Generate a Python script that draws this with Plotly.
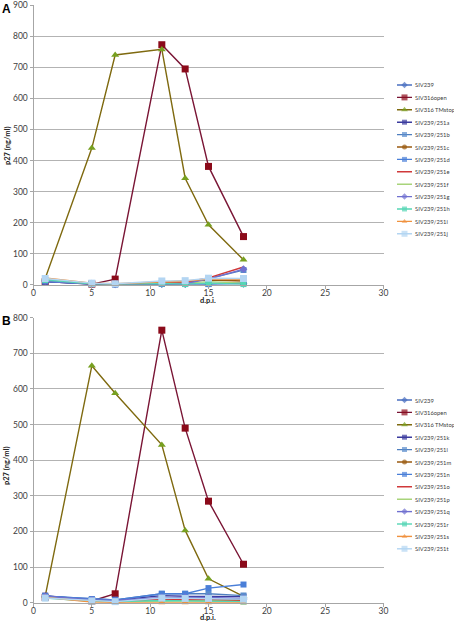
import plotly.graph_objects as go

days = [1, 5, 7, 11, 13, 15, 18]
x_ticks = [0, 5, 10, 15, 20, 25, 30]

names_a = ["SIV239", "SIV316open", "SIV316 TMstop", "SIV239/251a", "SIV239/251b", "SIV239/251c",
           "SIV239/251d", "SIV239/251e", "SIV239/251f", "SIV239/251g", "SIV239/251h", "SIV239/251i",
           "SIV239/251j"]
values_a = [
    [12, 2, 1, 2, 2, 2, 3],
    [10, 2, 18, 773, 695, 381, 155],
    [20, 440, 740, 758, 343, 193, 80],
    [10, 2, 1, 3, 3, 3, 5],
    [15, 3, 2, 5, 5, 20, 47],
    [15, 3, 2, 8, 10, 15, 12],
    [10, 2, 1, 3, 5, 2, 6],
    [15, 3, 2, 6, 8, 22, 57],
    [18, 4, 2, 5, 5, 10, 5],
    [12, 3, 2, 4, 4, 18, 50],
    [15, 3, 2, 4, 2, 5, 2],
    [22, 5, 3, 10, 12, 18, 17],
    [20, 5, 3, 12, 13, 21, 20],
]

names_b = ["SIV239", "SIV316open", "SIV316 TMstop", "SIV239/251k", "SIV239/251l", "SIV239/251m",
           "SIV239/251n", "SIV239/251o", "SIV239/251p", "SIV239/251q", "SIV239/251r", "SIV239/251s",
           "SIV239/251t"]
values_b = [
    [18, 8, 5, 12, 12, 12, 10],
    [15, 5, 25, 765, 490, 285, 108],
    [18, 665, 588, 443, 203, 67, 18],
    [20, 8, 7, 20, 18, 17, 17],
    [18, 10, 8, 25, 25, 25, 20],
    [15, 5, 3, 8, 7, 6, 6],
    [18, 10, 8, 25, 25, 41, 51],
    [15, 5, 2, 10, 8, 6, 5],
    [15, 5, 3, 5, 5, 5, 3],
    [18, 8, 6, 15, 15, 15, 12],
    [13, 4, 3, 6, 5, 5, 3],
    [15, 2, 0, 0, 0, 0, 0],
    [13, 5, 3, 13, 12, 12, 10],
]

# style per series position (same for both panels)
line_colors = ["#4a6fc1", "#7a1535", "#7f6a10", "#3b3b9e", "#4f7fbf", "#9a5a10", "#4a7fd8",
               "#d0393a", "#a8d47a", "#7070d0", "#55d6b5", "#f0923f", "#b3d5f2"]
marker_colors = ["#4a6fc1", "#8b0a1a", "#77a020", "#3b3b9e", "#5a8ccc", "#9a5a10", "#4a7fd8",
                 "#d0393a", "#a8d47a", "#7070d0", "#55d6b5", "#f0923f", "#b3d5f2"]
symbols = ["diamond", "square", "triangle-up", "square", "square-x", "circle", "square",
           "line-ew", "line-ew", "diamond", "square", "triangle-up", "square"]
msizes = [6, 7, 7, 6, 6, 6, 6, 0, 0, 6, 6, 6, 7]

fig = go.Figure()
annotations = []

W, H = 454, 622


def px_x(p):
    return p / W


def px_y(p):
    return 1 - p / H


def add_panel(names, values, xa, ya, lxa, lya):
    for i, (n, v) in enumerate(zip(names, values)):
        fig.add_trace(go.Scatter(
            x=days, y=v, name=n, mode="lines+markers" if msizes[i] else "lines",
            line=dict(color=line_colors[i], width=1.4),
            marker=dict(symbol=symbols[i], size=msizes[i], color=marker_colors[i],
                        line=dict(width=0)),
            xaxis=xa, yaxis=ya, showlegend=False, cliponaxis=False))
    # custom compact legend
    for i, n in enumerate(names):
        fig.add_trace(go.Scatter(
            x=[2, 9.5, 17], y=[i, i, i], mode="lines+markers" if msizes[i] else "lines",
            line=dict(color=line_colors[i], width=1.4),
            marker=dict(symbol=symbols[i], size=[0, max(msizes[i] - 1, 0), 0],
                        color=marker_colors[i], line=dict(width=0)),
            xaxis=lxa, yaxis=lya, showlegend=False, hoverinfo="skip", cliponaxis=False))
        annotations.append(dict(
            text=n, x=17.5, y=i, xref=lxa, yref=lya, xanchor="left", yanchor="middle",
            showarrow=False, font=dict(size=5.8, color="#404040", family="Lato")))


add_panel(names_a, values_a, "x", "y", "x3", "y3")
add_panel(names_b, values_b, "x2", "y2", "x4", "y4")

axis_font = dict(family="Lato", size=8.5, color="#404040")
title_font = dict(family="Lato", size=7.5, color="#202020")
common_x = dict(range=[0, 30], tickvals=x_ticks, showgrid=False, showline=True, linecolor="#a6a6a6",
                linewidth=1, ticks="outside", ticklen=3, tickcolor="#a6a6a6", tickfont=axis_font,
                zeroline=False, domain=[px_x(33.5), px_x(383.5)], fixedrange=True, automargin=False,
                ticklabelstandoff=-3, ticklabeloverflow="allow")
common_y = dict(showgrid=True, gridcolor="#b3b3b3", gridwidth=1, showline=True, linecolor="#a6a6a6",
                linewidth=1, ticks="outside", ticklen=3, tickcolor="#a6a6a6", tickfont=axis_font,
                zeroline=False, dtick=100, fixedrange=True, automargin=False,
                ticklabeloverflow="allow")


def paper_text(text, x, y, size, family="Lato", angle=0, color="#202020"):
    return dict(text=text, x=px_x(x), y=px_y(y), xref="paper", yref="paper", xanchor="center",
                yanchor="middle", showarrow=False, textangle=angle,
                font=dict(family=family, size=size, color=color))


annotations += [
    paper_text("<b>A</b>", 6, 9, 12, "Liberation Sans", color="black"),
    paper_text("<b>B</b>", 6, 321, 12, "Liberation Sans", color="black"),
    paper_text("<b>p27 (ng/ml)</b>", 7, 146, 7.5, angle=-90),
    paper_text("<b>p27 (ng/ml)</b>", 7, 466, 7.5, angle=-90),
    paper_text("<b>d.p.i.</b>", 208, 300, 7.5),
    paper_text("<b>d.p.i.</b>", 208, 617.5, 7.5),
]

fig.update_layout(
    width=W, height=H, margin=dict(l=0, r=0, t=0, b=0, pad=0, autoexpand=False),
    paper_bgcolor="white", plot_bgcolor="white", showlegend=False,
    xaxis=dict(common_x, anchor="y"),
    yaxis=dict(common_y, range=[0, 900], anchor="x", domain=[px_y(284.7), px_y(5.3)]),
    xaxis2=dict(common_x, anchor="y2"),
    yaxis2=dict(common_y, range=[0, 800], anchor="x2", domain=[px_y(602.7), px_y(317.7)]),
    xaxis3=dict(domain=[px_x(395), 1], range=[0, 59], visible=False, anchor="y3", fixedrange=True),
    yaxis3=dict(domain=[px_y(240.0), px_y(78.8)], range=[12.5, -0.5], visible=False, anchor="x3",
                fixedrange=True),
    xaxis4=dict(domain=[px_x(395), 1], range=[0, 59], visible=False, anchor="y4", fixedrange=True),
    yaxis4=dict(domain=[px_y(555.0), px_y(393.8)], range=[12.5, -0.5], visible=False, anchor="x4",
                fixedrange=True),
    annotations=annotations,
)

fig.write_html("out.html", config={"displayModeBar": False},
               post_script="document.body.style.margin='0';")
